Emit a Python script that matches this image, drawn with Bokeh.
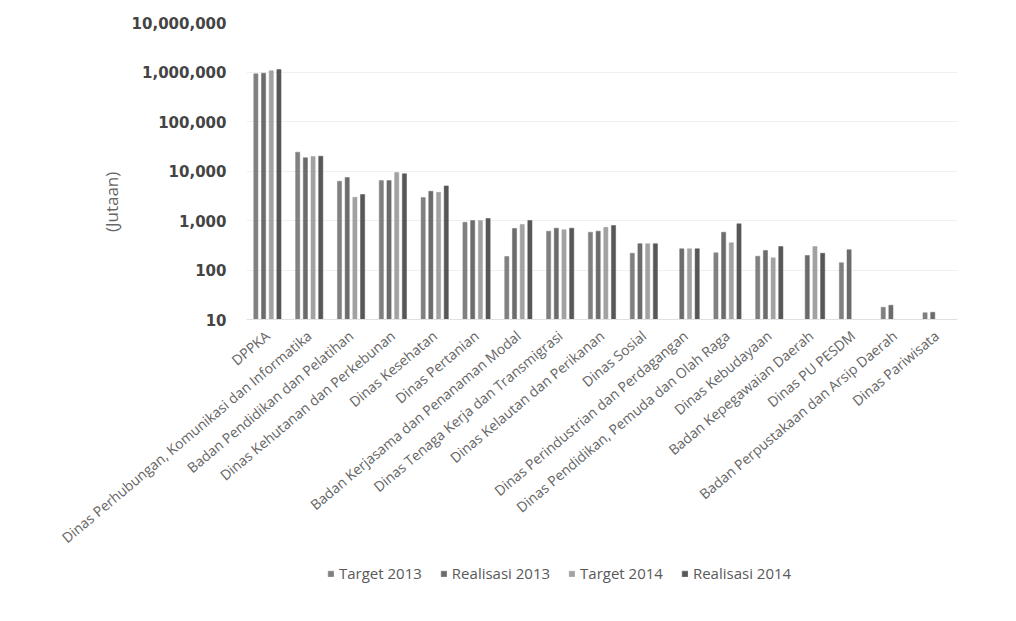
from bokeh.plotting import figure
from bokeh.models import (Range1d, FixedTicker, NumeralTickFormatter, Legend, LegendItem,
                          ColumnDataSource, FactorRange)
from bokeh.layouts import column
from bokeh.transform import dodge
from bokeh.embed import file_html
from bokeh.resources import INLINE
import math

categories = [
    "DPPKA",
    "Dinas Perhubungan, Komunikasi dan Informatika",
    "Badan Pendidikan dan Pelatihan",
    "Dinas Kehutanan dan Perkebunan",
    "Dinas Kesehatan",
    "Dinas Pertanian",
    "Badan Kerjasama dan Penanaman Modal",
    "Dinas Tenaga Kerja dan Transmigrasi",
    "Dinas Kelautan dan Perikanan",
    "Dinas Sosial",
    "Dinas Perindustrian dan Perdagangan",
    "Dinas Pendidikan, Pemuda dan Olah Raga",
    "Dinas Kebudayaan",
    "Badan Kepegawaian Daerah",
    "Dinas PU PESDM",
    "Badan Perpustakaan dan Arsip Daerah",
    "Dinas Pariwisata",
]

target_2013 = [920000, 24000, 6200, 6400, 2900, 920, 187, 610, 580, 218, None, 222, 190, None, 140, 17.7, 13.7]
realisasi_2013 = [946000, 18500, 7400, 6400, 3900, 1000, 690, 700, 610, 340, 268, 580, 247, 196, 257, 19.4, 14]
target_2014 = [1060000, 19600, 2950, 9300, 3700, 1000, 830, 650, 730, 340, 268, 355, 176, 297, None, None, None]
realisasi_2014 = [1120000, 19900, 3350, 8800, 5000, 1100, 1000, 700, 790, 340, 268, 855, 297, 218, None, None, None]

series_names = ["Target 2013", "Realisasi 2013", "Target 2014", "Realisasi 2014"]
series_values = [target_2013, realisasi_2013, target_2014, realisasi_2014]
series_colors = ["#808080", "#6c6c6c", "#a2a2a2", "#575757"]
offsets = [-0.276, -0.092, 0.092, 0.276]

y_ticks = [10, 100, 1000, 10000, 100000, 1000000, 10000000]

xr = FactorRange(*categories, range_padding=0)

p = figure(width=1016, height=562, x_range=xr,
           y_axis_type="log", y_range=Range1d(10, 10000000),
           output_backend="svg", toolbar_location=None,
           min_border_left=246, min_border_right=59, min_border_top=22, min_border_bottom=243)
p.outline_line_color = None
p.background_fill_color = "white"
p.border_fill_color = "white"

# small strip below the chart that carries the legend
p2 = figure(width=1016, height=59, x_range=xr,
            y_axis_type="log", y_range=Range1d(1e8, 1e9),
            output_backend="svg", toolbar_location=None, min_border=0)
p2.outline_line_color = None
p2.axis.visible = False
p2.grid.grid_line_color = None

legend_renderers = []
for name, vals, col, off in zip(series_names, series_values, series_colors, offsets):
    cats = [c for c, v in zip(categories, vals) if v is not None]
    tops = [v for v in vals if v is not None]
    src = ColumnDataSource(dict(cat=cats, top=tops))
    p.vbar(x=dodge("cat", off, range=xr), top="top", bottom=10, width=0.1,
           source=src, fill_color=col, line_color=col, line_width=0.5)
    r2 = p2.vbar(x=dodge("cat", off, range=xr), top="top", bottom=10, width=0.1,
                 source=src, fill_color=col, line_color=col, line_width=0.5)
    legend_renderers.append(r2)

# y axis
p.yaxis.ticker = FixedTicker(ticks=y_ticks)
p.yaxis.formatter = NumeralTickFormatter(format="0,0")
p.yaxis.major_label_text_font = "DejaVu Sans"
p.yaxis.major_label_text_font_style = "bold"
p.yaxis.major_label_text_font_size = "15px"
p.yaxis.major_label_text_color = "#444444"
p.yaxis.major_label_standoff = 14
p.yaxis.major_tick_line_color = None
p.yaxis.minor_tick_line_color = None
p.yaxis.axis_line_color = None
p.yaxis.axis_label = "(Jutaan)" + "\u00a0" * 14
p.yaxis.axis_label_text_font = "Open Sans"
p.yaxis.axis_label_text_font_style = "normal"
p.yaxis.axis_label_text_font_size = "17px"
p.yaxis.axis_label_text_color = "#666666"
p.yaxis.axis_label_standoff = 6

# x axis
p.xaxis.major_label_orientation = math.radians(40)
p.xaxis.major_label_text_font = "Open Sans"
p.xaxis.major_label_text_font_size = "14px"
p.xaxis.major_label_text_color = "#666666"
p.xaxis.major_label_standoff = 8
p.xaxis.major_tick_line_color = None
p.xaxis.minor_tick_line_color = None
p.xaxis.axis_line_color = "#e0e0e0"

p.xgrid.grid_line_color = None
p.ygrid.grid_line_color = "#f0f0f0"

legend = Legend(items=[LegendItem(label=n, renderers=[r]) for n, r in zip(series_names, legend_renderers)],
                orientation="horizontal", location=(81, 38),
                label_text_font="Open Sans", label_text_font_size="15px",
                label_text_color="#595959", glyph_width=7, glyph_height=7,
                spacing=18, label_standoff=5, padding=2, margin=0,
                background_fill_alpha=0, border_line_color=None)
p2.add_layout(legend)

open("out.html", "w").write(file_html(column(p, p2, spacing=0), INLINE))
